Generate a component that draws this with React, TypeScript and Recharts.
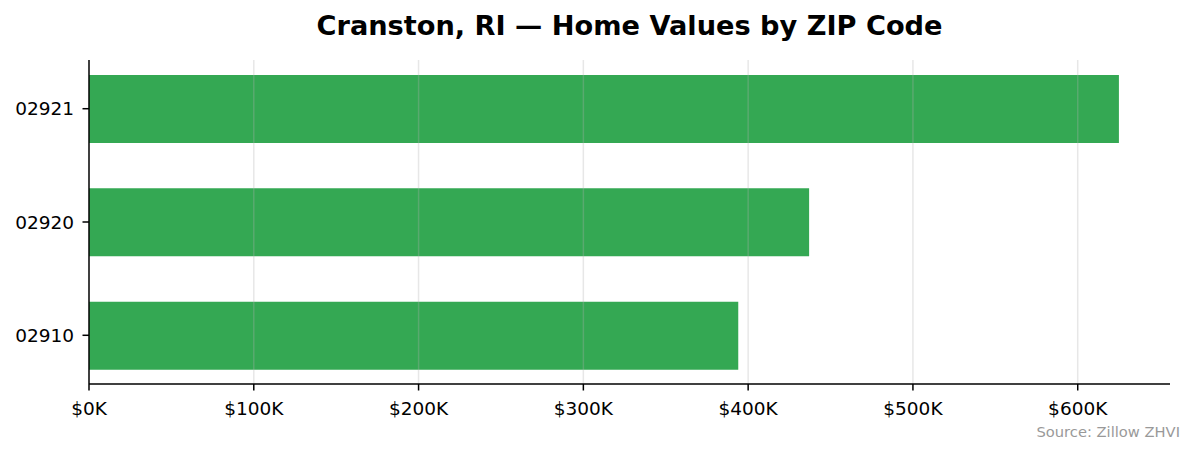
import React from 'react';
import { BarChart, Bar, XAxis, YAxis, ReferenceLine } from 'recharts';

const zips = ['02910', '02920', '02921'];
const values = [394000, 437000, 625000];
const xTicks = [0, 100000, 200000, 300000, 400000, 500000, 600000];

const data = zips.map((z, i) => ({ pos: i, zip: z, value: values[i] }));

const FONT = '"DejaVu Sans", sans-serif';
const fmtK = (v: number) => `$${Math.round(v / 1000)}K`;

export default function App() {
  return (
    <div style={{ position: 'absolute', left: 0, top: 0, width: 1195, height: 455, background: '#fff', fontFamily: FONT }}>
      <div style={{ position: 'absolute', left: 89, width: 1081, top: 12, lineHeight: '27px', fontSize: 27.2, fontWeight: 'bold', textAlign: 'center', color: '#000' }}>
        Cranston, RI — Home Values by ZIP Code
      </div>
      <BarChart
        width={1195}
        height={455}
        data={data}
        layout="vertical"
        margin={{ top: 60, right: 25, left: 0, bottom: 41 }}
      >
        <XAxis
          type="number"
          dataKey="value"
          domain={[0, 656000]}
          ticks={xTicks}
          tickFormatter={fmtK}
          height={30}
          allowDataOverflow
          axisLine={{ stroke: '#000', strokeWidth: 1.5 }}
          tickLine={{ stroke: '#000', strokeWidth: 1.5 }}
          tickSize={6.5}
          tickMargin={11}
          tick={{ fill: '#000', fontSize: 18.5, fontFamily: FONT }}
        />
        <YAxis
          type="number"
          dataKey="pos"
          domain={[-0.43, 2.43]}
          ticks={[0, 1, 2]}
          reversed
          tickFormatter={(v: number) => zips[v]}
          width={89}
          allowDataOverflow
          axisLine={{ stroke: '#000', strokeWidth: 1.5 }}
          tickLine={{ stroke: '#000', strokeWidth: 1.5 }}
          tickSize={6.5}
          tickMargin={8.5}
          tick={{ fill: '#000', fontSize: 18.5, fontFamily: FONT }}
        />
        <Bar dataKey="value" fill="#34a853" barSize={68} isAnimationActive={false} />
        {xTicks.slice(1).map((t) => (
          <ReferenceLine key={t} x={t} stroke="#b0b0b0" strokeOpacity={0.3} strokeWidth={1.5} />
        ))}
      </BarChart>
      <div style={{ position: 'absolute', right: 15, top: 424, lineHeight: '15px', fontSize: 14.7, color: '#999999' }}>
        Source: Zillow ZHVI
      </div>
    </div>
  );
}
